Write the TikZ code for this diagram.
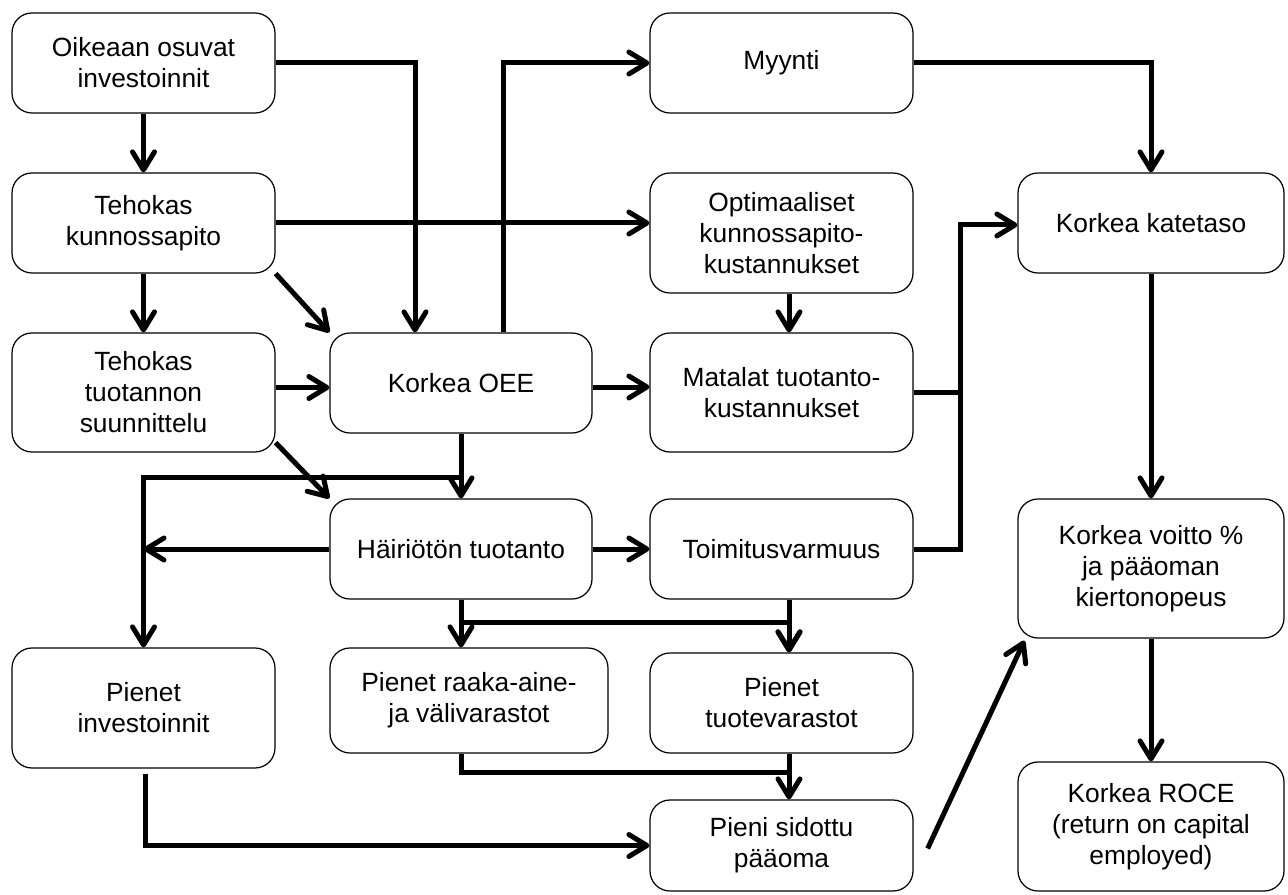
\documentclass[tikz,border=0pt]{standalone}
\usepackage{fontspec}
\setmainfont{Liberation Sans}
\usetikzlibrary{arrows.meta,calc}
\begin{document}
\begin{tikzpicture}[x=0.02cm,y=-0.02cm,
  box/.style 2 args={draw, line width=0.7pt, rounded corners=0.4cm, align=center, inner sep=0pt,
    minimum width=#1*0.02cm, minimum height=#2*0.02cm, font=\fontsize{15}{17.6}\selectfont},
  conn/.style={line width=0.1cm},
  arr/.style={conn, -{Straight Barb[length=0.36cm,width=0.44cm,round]}}]
\useasboundingbox (0,0) rectangle (1288,895);
\node[box={263}{100}] (n1) at (143.5,63) {Oikeaan osuvat\\investoinnit};
\node[box={263}{100}] (n2) at (143.5,223) {Tehokas\\kunnossapito};
\node[box={263}{119}] (n3) at (143.5,392.5) {Tehokas\\tuotannon\\suunnittelu};
\node[box={262}{100}] (n4) at (461,383) {Korkea OEE};
\node[box={262}{100}] (n5) at (461,549) {Häiriötön tuotanto};
\node[box={263}{120}] (n6) at (143.5,708) {Pienet\\investoinnit};
\node[box={278}{105}] (n7) at (469,700.5) {Pienet raaka-aine-\\ja välivarastot};
\node[box={263}{100}] (n8) at (781.5,703) {Pienet\\tuotevarastot};
\node[box={263}{91}] (n9) at (781.5,845.5) {Pieni sidottu\\pääoma};
\node[box={263}{100}] (n10) at (781.5,63) {Myynti};
\node[box={263}{120}] (n11) at (781.5,233) {Optimaaliset\\kunnossapito-\\kustannukset};
\node[box={263}{119}] (n12) at (781.5,392.5) {Matalat tuotanto-\\kustannukset};
\node[box={263}{100}] (n13) at (781.5,549) {Toimitusvarmuus};
\node[box={266}{100}] (n14) at (1151,223) {Korkea katetaso};
\node[box={266}{139}] (n15) at (1151,568.5) {Korkea voitto \%\\ja pääoman\\kiertonopeus};
\node[box={266}{129}] (n16) at (1151,826.5) {Korkea ROCE\\(return on capital\\employed)};
\coordinate (j1) at (960,225);
\coordinate (k1) at (461,477);
\coordinate (k2) at (461,622);
\coordinate (k3) at (789,772);
\draw[arr] (n1.south) -- (n2.north);
\draw[arr] (n1.east) -| ($(n4.north)+(-46,0)$);
\draw[arr] ($(n4.north)+(42,0)$) |- (n10.west);
\draw[arr] (n2.east) -- (n2.east -| n11.west);
\draw[arr] (n2.south) -- (n3.north);
\draw[arr] (n2.south east) -- (n4.north west);
\draw[arr] ($(n3.east)+(0,-5)$) -- ($(n3.east -| n4.west)+(0,-5)$);
\draw[arr] ($(n4.east)+(0,4)$) -- ($(n4.east -| n12.west)+(0,4)$);
\draw[arr] ($(n11.south)+(7.5,0)$) -- ($(n12.north)+(7.5,0)$);
\draw[conn] (n12.east) -- (n12.east -| j1);
\draw[arr] (n13.east) -| (j1) -- (j1 -| n14.west);
\draw[arr] (n10.east) -| (n14.north);
\draw[arr] (n14.south) -- (n15.north);
\draw[arr] (n15.south) -- (n16.north);
\draw[arr] (n4.south) -- (n5.north);
\draw[arr] (k1) -| (n6.north);
\draw[arr] (n5.west) -- (n5.west -| n6.north);
\draw[arr] ($(n3.south east)+(0,-10)$) -- (n5.north west);
\draw[arr] (n5.east) -- (n13.west);
\draw[arr] (n5.south) -- (n5.south |- n7.north);
\draw[arr] (k2) -| ($(n8.north)+(7.5,0)$);
\draw[arr] ($(n13.south)+(7.5,0)$) -- ($(n8.north)+(7.5,0)$);
\draw[conn] (n5.south |- n7.south) |- (k3);
\draw[arr] ($(n8.south)+(7.5,0)$) -- ($(n9.north)+(7.5,0)$);
\draw[arr] ($(n6.south)+(2,5)$) |- (n9.west);
\draw[arr] ($(n9.east)+(14,3)$) -- ($(n15.south west)+(7,2)$);
\end{tikzpicture}
\end{document}
